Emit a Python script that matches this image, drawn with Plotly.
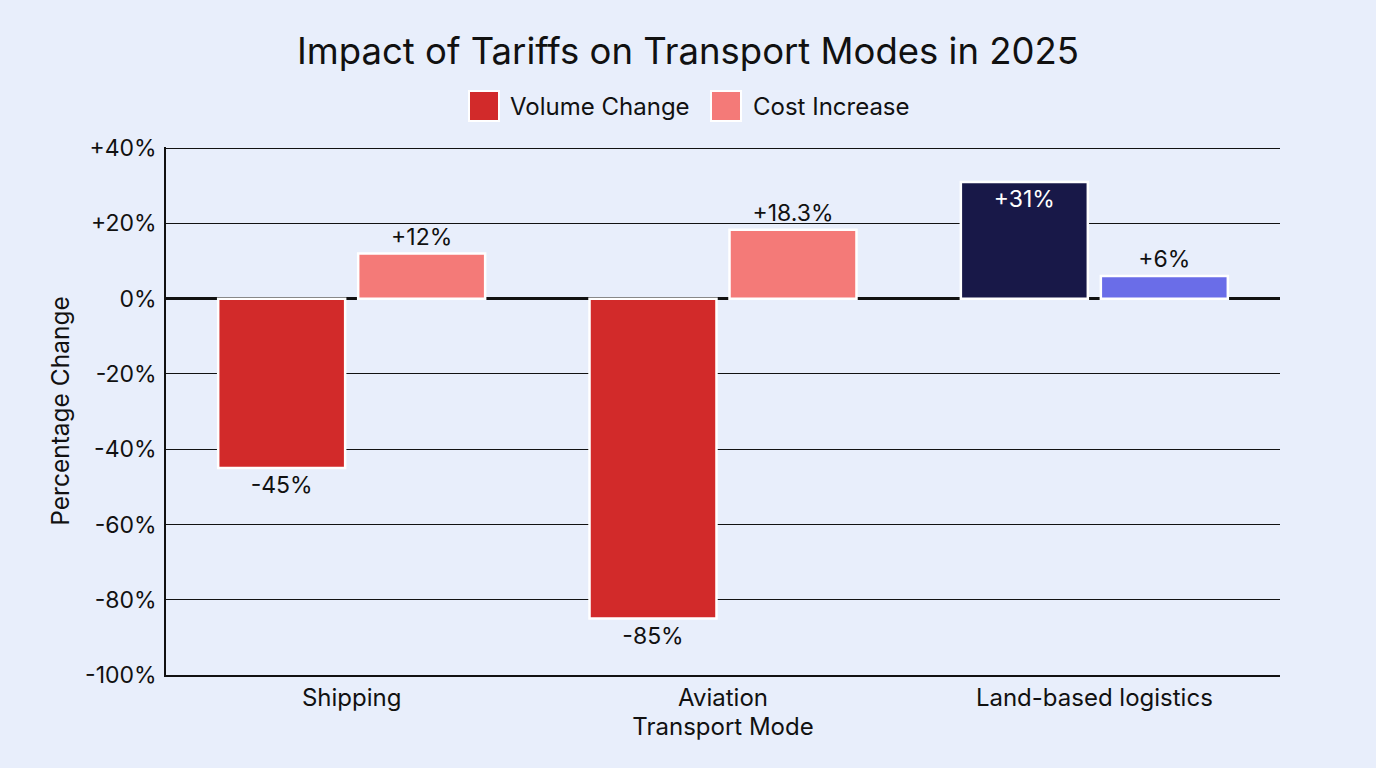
import plotly.graph_objects as go

categories = ["Shipping", "Aviation", "Land-based logistics"]
volume_change = [-45, -85, 31]
cost_increase = [12, 18.3, 6]
volume_labels = ["-45%", "-85%", "+31%"]
cost_labels = ["+12%", "+18.3%", "+6%"]
tick_values = [40, 20, 0, -20, -40, -60, -80, -100]
tick_labels = ["+40%", "+20%", "0%", "-20%", "-40%", "-60%", "-80%", "-100%"]
legend_names = ["Volume Change", "Cost Increase"]
legend_colors = ["#d22a2a", "#f47a78"]

vol_colors = ["#d22a2a", "#d22a2a", "#181848"]
cost_colors = ["#f47a78", "#f47a78", "#6a6de8"]

FONT = "Inter, Roboto, sans-serif"
INK = "#111111"

fig = go.Figure()
fig.add_trace(go.Bar(
    name=legend_names[0], x=categories, y=volume_change, showlegend=False,
    marker=dict(color=vol_colors, line=dict(color="white", width=2.5)),
    text=volume_labels,
    textposition=["outside", "outside", "inside"],
    insidetextanchor="end",
    textfont=dict(size=23, color=[INK, INK, "white"], family=FONT),
    cliponaxis=False,
))
fig.add_trace(go.Bar(
    name=legend_names[1], x=categories, y=cost_increase, showlegend=False,
    marker=dict(color=cost_colors, line=dict(color="white", width=2.5)),
    text=cost_labels, textposition="outside",
    textfont=dict(size=23, color=INK, family=FONT),
    cliponaxis=False,
))

# custom legend (large square swatches) in paper coordinates
PX0, PW, PY0, PH = 166, 1114, 675, 528
def px(x):
    return (x - PX0) / PW
def py(y):
    return (PY0 - y) / PH

swatch_left = [469, 711]
text_left = [508, 751]
shapes = []
annotations = []
for name, col, sl, tl in zip(legend_names, legend_colors, swatch_left, text_left):
    shapes.append(dict(type="rect", xref="paper", yref="paper",
                       x0=px(sl), x1=px(sl + 30), y0=py(121), y1=py(91),
                       fillcolor=col, line=dict(color="white", width=2)))
    annotations.append(dict(text=name, xref="paper", yref="paper", x=px(tl), y=py(106),
                            xanchor="left", yanchor="middle", showarrow=False,
                            font=dict(size=24, color=INK, family=FONT)))

bg = "#e8eefb"
fig.update_layout(
    width=1376, height=768,
    paper_bgcolor=bg, plot_bgcolor=bg,
    font=dict(family=FONT, size=23, color=INK),
    title=dict(text="Impact of Tariffs on Transport Modes in 2025", x=0.5, xanchor="center",
               y=0.933, yanchor="middle", font=dict(size=36.5, color=INK)),
    showlegend=False,
    barmode="group", bargap=0.246, bargroupgap=0.093,
    margin=dict(l=166, r=96, t=147, b=93),
    shapes=shapes, annotations=annotations,
)
fig.update_xaxes(
    title=dict(text="Transport Mode", font=dict(size=24), standoff=6),
    showgrid=False, showline=True, linecolor=INK, linewidth=1.5,
    ticks="", tickfont=dict(size=24), ticklabelstandoff=0,
)
fig.update_yaxes(
    title=dict(text="Percentage Change", font=dict(size=24.5), standoff=9),
    range=[-100, 40.3], tickvals=tick_values, ticktext=tick_labels,
    showgrid=True, gridcolor=INK, gridwidth=1,
    zeroline=True, zerolinecolor=INK, zerolinewidth=3,
    showline=True, linecolor=INK, linewidth=1.5,
    ticks="", tickfont=dict(size=23), ticklabelstandoff=3,
)

fig.write_html("out.html")
